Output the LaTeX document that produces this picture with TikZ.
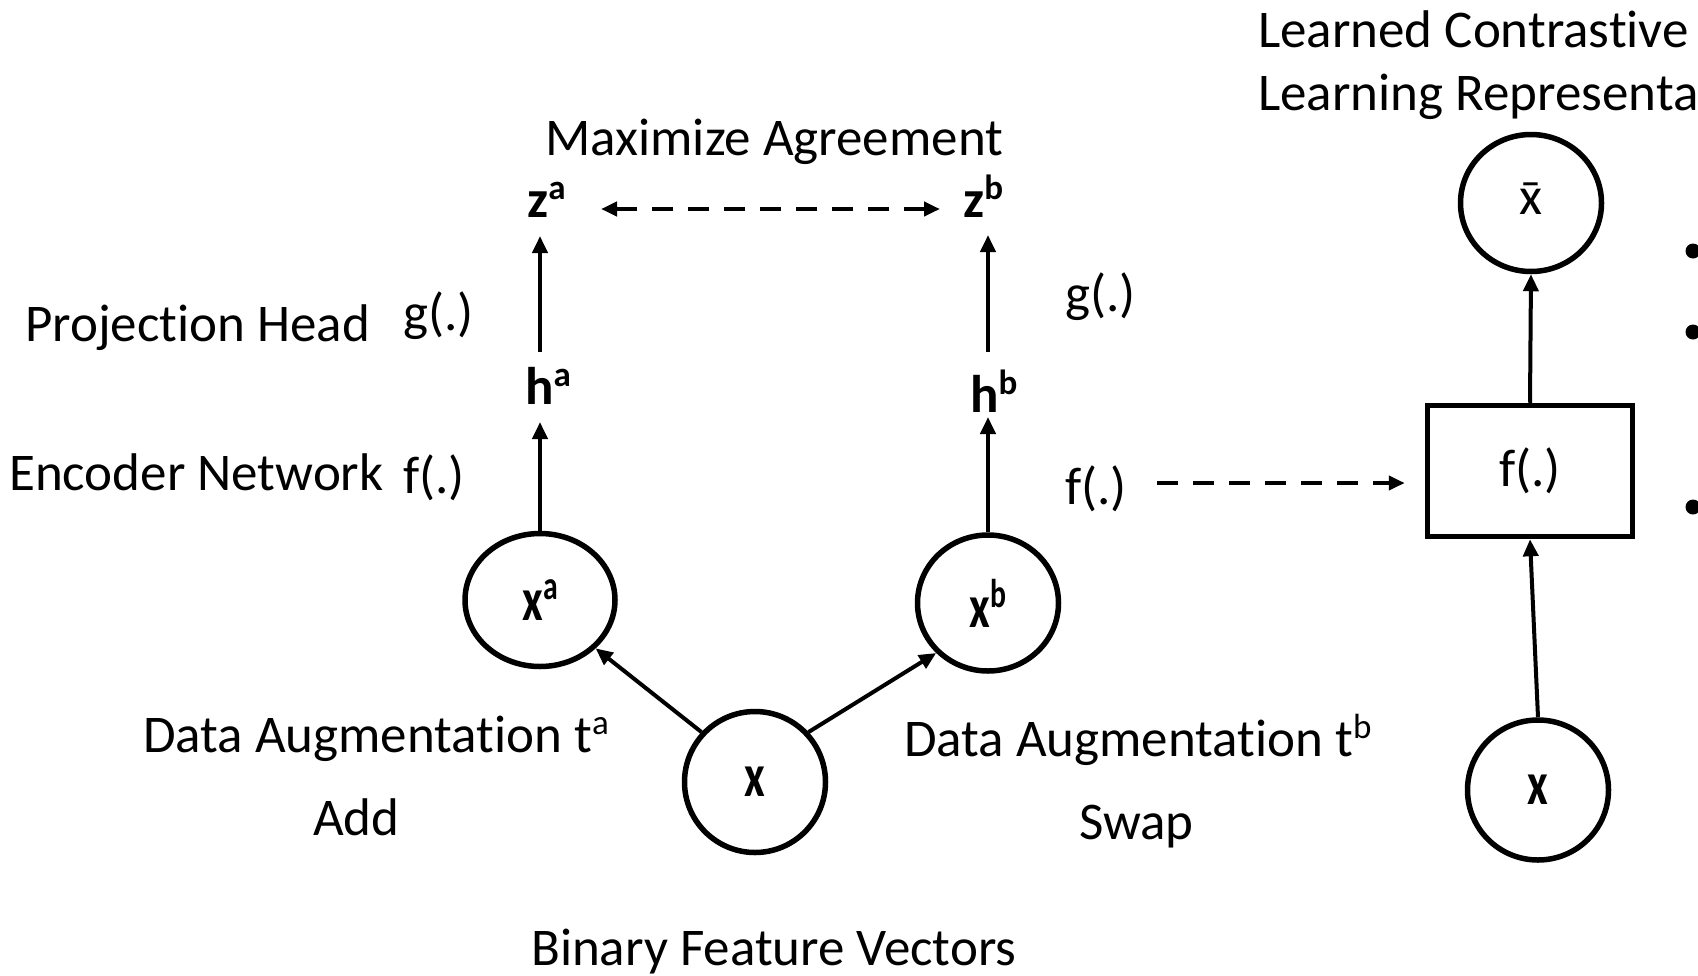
\documentclass[tikz,border=0pt]{standalone}
\usepackage{fontspec}
\setmainfont{Carlito}[Ligatures=NoCommon]
\usetikzlibrary{shapes.geometric,arrows.meta,calc}
\newcommand{\supx}[1]{\raisebox{0.33em}{\fontsize{35}{40}\selectfont #1}}
\begin{document}
\begin{tikzpicture}[x=1pt,y=-1pt,
  txt/.style={font=\fontsize{53}{60}\selectfont, inner sep=0pt, anchor=base west},
  lbl/.style={font=\fontsize{53}{60}\selectfont\bfseries, inner sep=0pt, anchor=base west},
  circ/.style={draw, line width=5.5pt, ellipse, inner sep=0pt, font=\fontsize{53}{60}\selectfont\bfseries},
  arr/.style={line width=4pt, -{Triangle[length=17pt,width=15pt]}},
  darr/.style={line width=4.5pt, dash pattern=on 21pt off 15pt, -{Triangle[length=16pt,width=14pt]}},
  dbarr/.style={line width=4.5pt, dash pattern=on 21pt off 15pt, {Triangle[length=16pt,width=14pt]}-{Triangle[length=16pt,width=14pt]}},
  bullet/.style={circle, fill, inner sep=0pt, minimum size=15pt}
]
\useasboundingbox (0,0) rectangle (1698,975);

% texts
\node[txt] (t1) at (1258,47) {Learned Contrastive};
\node[txt] (t2) at (1258,110) {Learning Representa};
\node[txt] (ma) at (545,155) {Maximize Agreement};
\node[txt] (ph) at (25,341) {Projection Head};
\node[txt] (gl) at (403,330) {g(.)};
\node[txt] (en) at (9,490) {Encoder Network};
\node[txt] (fl) at (403,493) {f(.)};
\node[txt] (gr) at (1065,311) {g(.)};
\node[txt] (fr) at (1065,504) {f(.)};
\node[txt] (da) at (143,752) {Data Augmentation t\supx{a}};
\node[txt] (add) at (313,835) {Add};
\node[txt] (db) at (904,756) {Data Augmentation t\supx{b}};
\node[txt] (swap) at (1079,839) {Swap};
\node[txt] (bfv) at (531,965) {Binary Feature Vectors};

% bold labels
\node[lbl] (za) at (527,217) {z\supx{a}};
\node[lbl] (zb) at (963,217) {z\supx{b}};
\node[lbl] (ha) at (525,404) {h\supx{a}};
\node[lbl] (hb) at (970,412) {h\supx{b}};

% circles
\node[circ, minimum width=150pt, minimum height=133pt] (xa) at (540,600) {\scalebox{0.85}[1.15]{x\supx{a}}};
\node[circ, minimum width=141pt, minimum height=136pt] (xb) at (988,603) {\scalebox{0.85}[1.15]{x\supx{b}}};
\node[circ, minimum width=141pt, minimum height=141pt] (x) at (755,782) {\scalebox{0.85}[1.15]{x}};
\node[circ, minimum width=141pt, minimum height=137pt, font=\fontsize{53}{60}\selectfont] (xbar) at (1531,203) {\ooalign{x\cr\hidewidth\raisebox{-0.04em}{\char"00AF}\hidewidth\cr}};
\node[circ, minimum width=141pt, minimum height=140pt] (xr) at (1538,790) {\scalebox{0.85}[1.15]{x}};
\node[draw, line width=5.5pt, rectangle, minimum width=205pt, minimum height=131pt, font=\fontsize{53}{60}\selectfont] (box) at (1530,471) {f(.)};

% bullets
\node[bullet] (b1) at (1693,251) {};
\node[bullet] (b2) at (1693,332) {};
\node[bullet] (b3) at (1693,507) {};

% connectors
\draw[arr] (xa.north) -- ($(xa.north |- ha.base)+(0,18)$);
\draw[arr] ($(xa.north |- ha.base)+(0,-52)$) -- ($(xa.north |- za.base)+(0,19)$);
\draw[arr] (xb.north) -- ($(xb.north |- hb.base)+(0,5)$);
\draw[arr] ($(xb.north |- hb.base)+(0,-60)$) -- ($(xb.north |- zb.base)+(0,18)$);
\draw[dbarr] ($(za.base west)+(74,-8)$) -- ($(zb.base west)+(-23,-8)$);
\draw[arr] (x.137) -- (xa.-41);
\draw[arr] (x.43) -- (xb.224);
\draw[darr] ($(fr.base west)+(92,-21)$) -- ($(box.west)+(-20,12)$);
\draw[arr] (xr.north) -- (box.south);
\draw[arr] (box.north) -- (xbar.south);
\end{tikzpicture}
\end{document}
